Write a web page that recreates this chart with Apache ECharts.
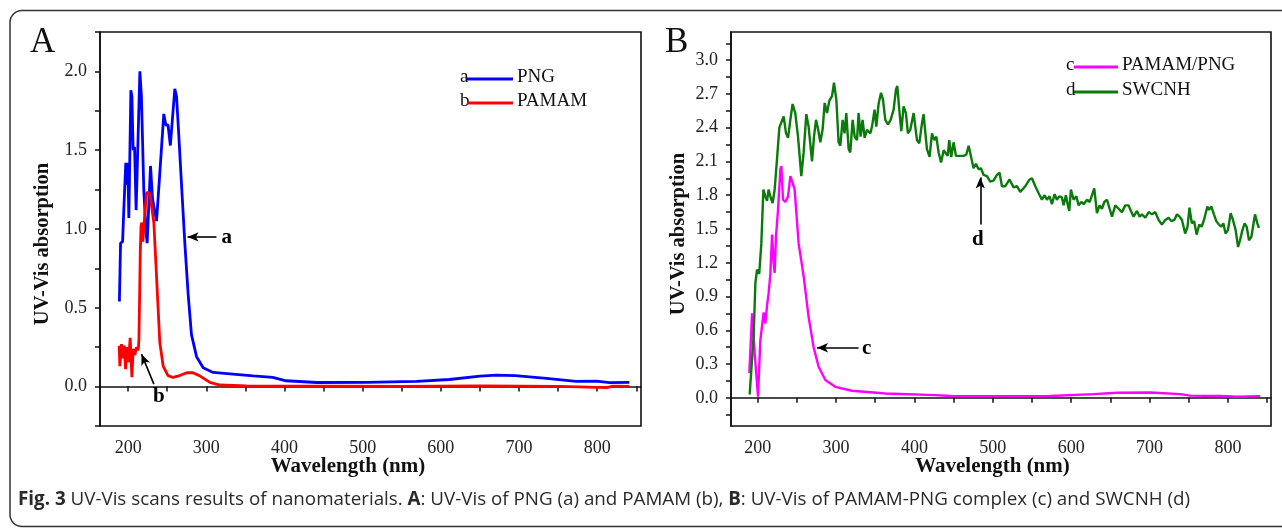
<!DOCTYPE html>
<html><head><meta charset="utf-8">
<script src="https://cdn.jsdelivr.net/npm/echarts@6/dist/echarts.min.js"></script>
<style>html,body{margin:0;padding:0;background:#fff}#c{width:1282px;height:528px}</style>
</head><body><div id="c"></div>
<script>
// ---------- DATA (wavelength nm, absorbance) ----------
const pngData = [[188.8,0.54],[190.3,0.91],[192.9,0.92],[194.5,1.13],[197,1.42],[198.2,1.28],[199.5,1.42],[200.9,1.07],[203.5,1.88],[204.8,1.84],[206.4,1.50],[208.2,1.52],[210.2,1.12],[215,2.00],[217,1.84],[220,1.25],[222.6,1.00],[224.3,0.91],[228.6,1.40],[231.2,1.19],[236.3,1.05],[238,1.17],[245.6,1.73],[248.2,1.66],[251,1.66],[254,1.53],[259.7,1.89],[261.9,1.84],[264.5,1.62],[268.3,1.28],[272.5,0.91],[276.7,0.59],[281,0.33],[287.5,0.19],[296,0.12],[308.7,0.09],[334,0.079],[360,0.068],[385,0.058],[402,0.037],[441,0.026],[505,0.027],[569,0.033],[611,0.045],[650,0.066],[671,0.073],[695,0.07],[735,0.052],[773,0.033],[799,0.035],[816,0.025],[841,0.027]];
const pamamData = [[188.5,0.26],[189.4,0.13],[191.5,0.27],[192.8,0.18],[195,0.26],[196.7,0.11],[198.8,0.25],[200.5,0.155],[202.6,0.31],[204.8,0.06],[206.5,0.24],[208.6,0.20],[210.7,0.25],[212.9,0.23],[213.8,0.30],[214.6,0.55],[215.5,0.85],[216.5,1.02],[217.5,1.04],[218.8,0.92],[220.2,1.02],[223.5,1.23],[226.9,1.23],[228.5,1.20],[232.9,1.04],[236.3,0.70],[240.5,0.28],[244.8,0.13],[251,0.07],[257.4,0.058],[266,0.07],[275,0.088],[283,0.088],[291.7,0.068],[304.5,0.027],[317.3,0.01],[351,0.004],[450,0.003],[550,0.002],[650,0.004],[750,0.002],[812,-0.006],[820,0.003],[841,0.002]];
const pamamPngData = [[189.4,0.22],[192.9,0.75],[196.2,0.40],[200.5,0.01],[203.4,0.51],[207.7,0.76],[209.8,0.66],[212,0.82],[214,0.93],[216.2,1.10],[218.4,1.45],[220.4,1.20],[221.7,1.11],[223.4,1.43],[226,1.67],[229,2.03],[230.2,2.06],[232.4,1.76],[235.3,1.74],[238.8,1.79],[241.7,1.97],[244.6,1.91],[247.2,1.85],[252.3,1.37],[258.7,1.08],[265,0.72],[271.4,0.45],[277.8,0.276],[286.4,0.158],[299.1,0.098],[320.4,0.063],[362.9,0.039],[426.7,0.024],[446,0.017],[500,0.015],[573,0.016],[628.6,0.033],[658.4,0.045],[700.9,0.048],[739,0.033],[752,0.02],[790,0.016],[811.5,0.01],[841.2,0.015]];
const swcnhData = [[189.8,0.03],[194.9,0.55],[197.1,1.02],[199.2,1.14],[202,1.10],[204.7,1.37],[207.3,1.85],[209.8,1.79],[212,1.75],[214,1.85],[216.6,1.78],[219.1,1.73],[221.7,1.85],[224.7,2.12],[227.7,2.40],[229.6,2.39],[233.2,2.50],[236.2,2.35],[238.8,2.31],[241.7,2.47],[244.6,2.61],[248,2.53],[251.5,2.32],[253.2,2.18],[255.7,1.97],[258.7,2.18],[262.1,2.52],[265,2.41],[269.4,2.10],[271.9,2.32],[274.5,2.47],[277,2.39],[280,2.27],[283,2.39],[285.5,2.62],[288.5,2.53],[291.5,2.64],[294.9,2.68],[297.4,2.80],[300.4,2.65],[303.3,2.27],[305.5,2.24],[308.4,2.47],[310.9,2.35],[313.1,2.53],[316.1,2.21],[318.2,2.18],[321.2,2.47],[323.8,2.32],[326.8,2.29],[328.8,2.53],[331.4,2.32],[333.9,2.47],[336.5,2.31],[339.5,2.38],[343.8,2.35],[345.9,2.41],[349.2,2.56],[351.4,2.41],[354.3,2.61],[357.4,2.71],[359.9,2.65],[362.9,2.47],[366.3,2.43],[369.7,2.47],[373.5,2.56],[376.5,2.74],[378.2,2.77],[380.7,2.56],[383.3,2.37],[386.2,2.59],[389.2,2.53],[391.7,2.35],[394.7,2.38],[399,2.53],[403.3,2.29],[406.2,2.26],[409.7,2.44],[411.7,2.52],[416,2.21],[419.4,2.14],[422.4,2.35],[425.4,2.29],[428,2.32],[430.9,2.18],[434,2.09],[437.4,2.20],[439.5,2.21],[442.5,2.15],[444.5,2.29],[447,2.14],[450,2.27],[453,2.15],[455.5,2.16],[458.5,2.15],[462.8,2.15],[466.2,2.16],[469.2,2.24],[472,2.15],[475.5,2.04],[478.5,2.08],[481.9,2.03],[484.9,2.04],[488.3,1.98],[492.6,1.97],[496.8,1.92],[501,1.93],[505.3,1.98],[508.7,2.0],[511.7,1.88],[516,1.88],[521.4,1.94],[526.5,1.87],[530.8,1.88],[535.1,1.83],[541.5,1.88],[547,1.94],[550,1.95],[554.3,1.88],[558.4,1.82],[562.7,1.76],[566.2,1.80],[569.1,1.76],[572.5,1.79],[575.5,1.72],[578.9,1.81],[581.8,1.76],[584.8,1.79],[588.2,1.78],[590.4,1.71],[593.3,1.80],[595.5,1.72],[597.6,1.66],[599.7,1.85],[603.2,1.76],[606.6,1.79],[609.6,1.71],[613,1.74],[616,1.72],[620.3,1.76],[623.7,1.74],[629.5,1.86],[632.9,1.64],[636.3,1.71],[639.3,1.68],[642.3,1.74],[645.7,1.76],[649.1,1.68],[652.1,1.61],[656.3,1.71],[660.6,1.68],[664.8,1.65],[669.1,1.71],[673.3,1.71],[676.3,1.66],[679.7,1.61],[684,1.66],[687.4,1.61],[690.4,1.63],[694.6,1.60],[698.9,1.65],[703.1,1.63],[707.4,1.65],[711.6,1.58],[715.8,1.54],[720.1,1.58],[724.4,1.60],[727.8,1.57],[731.6,1.58],[735,1.63],[738.4,1.61],[741.4,1.58],[745.5,1.46],[748.5,1.52],[751,1.69],[754,1.55],[756.9,1.57],[760.1,1.45],[763.5,1.54],[766.5,1.52],[769.5,1.58],[773.8,1.70],[775.9,1.67],[778.8,1.70],[782.2,1.63],[785.2,1.57],[788.6,1.54],[791.6,1.52],[794.1,1.55],[797.1,1.46],[800.1,1.49],[803.5,1.64],[806.5,1.58],[809.9,1.49],[813,1.34],[815.5,1.40],[818.5,1.49],[821.4,1.55],[824,1.52],[826.9,1.40],[830,1.43],[832.5,1.54],[834.6,1.63],[837.6,1.55],[839.6,1.51]];

// tick labels
const xLabelsNm = [200,300,400,500,600,700,800];
const xTicksNm = [200,250,300,350,400,450,500,550,600,650,700,750,800,850];
const yLabelsA = [0,0.5,1.0,1.5,2.0];
const yTicksA = [-0.25,0,0.25,0.5,0.75,1.0,1.25,1.5,1.75,2.0,2.25];
const yLabelsB = [0,0.3,0.6,0.9,1.2,1.5,1.8,2.1,2.4,2.7,3.0];
const yTicksB = [-0.15,0,0.15,0.3,0.45,0.6,0.75,0.9,1.05,1.2,1.35,1.5,1.65,1.8,1.95,2.1,2.25,2.4,2.55,2.7,2.85,3.0,3.15];

const seriesNames = ['PNG','PAMAM','PAMAM/PNG','SWCNH'];
const legendLetters = ['a','b','c','d'];
const colors = ['#0000ff','#ff0000','#ff00ff','#0a7a0a'];

// ---------- OPTION ----------
const SERIF = 'Liberation Serif';
function xAxis(gi, min, max){
  return {type:'value', gridIndex:gi, min:min, max:max,
    axisLine:{show:true, lineStyle:{color:'#111', width:1.6}},
    axisTick:{show:true, inside:false, length:5, customValues:xTicksNm, lineStyle:{color:'#111', width:1.5}},
    axisLabel:{customValues:xLabelsNm, fontFamily:SERIF, fontSize:18, color:'#222', margin:13},
    splitLine:{show:false}};
}
function yAxis(gi, min, max, labels, ticks){
  return {type:'value', gridIndex:gi, min:min, max:max,
    axisLine:{show:true, lineStyle:{color:'#111', width:1.6}},
    axisTick:{show:true, inside:false, length:5, customValues:ticks, lineStyle:{color:'#111', width:1.5}},
    axisLabel:{customValues:labels, fontFamily:SERIF, fontSize:18, color:'#222', margin:13,
      formatter:v=>Number(v).toFixed(1)},
    splitLine:{show:false}};
}
function arrow(from, to){
  return [{coord:from},{coord:to}];
}
function letter(txt, at){
  return {coord:at, symbol:'circle', symbolSize:0, itemStyle:{color:'rgba(0,0,0,0)'},
    label:{show:true, position:'inside', formatter:txt, fontFamily:SERIF, fontWeight:'bold', fontSize:21, color:'#000'}};
}
const markLineBase = {silent:true, animation:false, symbol:['none','arrow'], symbolSize:[7,11],
  lineStyle:{color:'#000', width:1.6, type:'solid'}, label:{show:false}};

const option = {
  animation:false,
  backgroundColor:'#fff',
  grid:[
    {left:100, top:32, width:541, height:394, show:true, borderColor:'#111', borderWidth:1.6, backgroundColor:'transparent'},
    {left:731, top:32, width:540, height:394, show:true, borderColor:'#111', borderWidth:1.6, backgroundColor:'transparent'}
  ],
  xAxis:[xAxis(0,164,856), xAxis(1,166,855)],
  yAxis:[yAxis(0,-0.25,2.25,yLabelsA,yTicksA), yAxis(1,-0.25,3.25,yLabelsB,yTicksB)],
  series:[
    {name:seriesNames[0], type:'line', xAxisIndex:0, yAxisIndex:0, data:pngData, showSymbol:false,
      lineStyle:{color:colors[0], width:2.8}, itemStyle:{color:colors[0]},
      markLine:Object.assign({}, markLineBase, {data:[arrow([313,0.95],[276,0.95])]}),
      markPoint:{silent:true, data:[letter('a',[326,0.945])]}},
    {name:seriesNames[1], type:'line', xAxisIndex:0, yAxisIndex:0, data:pamamData, showSymbol:false,
      lineStyle:{color:colors[1], width:2.8}, itemStyle:{color:colors[1]},
      markLine:Object.assign({}, markLineBase, {data:[arrow([232.9,0.016],[217.1,0.206])]}),
      markPoint:{silent:true, data:[letter('b',[239.3,-0.062])]}},
    {name:seriesNames[2], type:'line', xAxisIndex:1, yAxisIndex:1, data:pamamPngData, showSymbol:false,
      lineStyle:{color:colors[2], width:2.4}, itemStyle:{color:colors[2]},
      markLine:Object.assign({}, markLineBase, {data:[arrow([328.8,0.445],[275.8,0.445])]}),
      markPoint:{silent:true, data:[letter('c',[339,0.44])]}},
    {name:seriesNames[3], type:'line', xAxisIndex:1, yAxisIndex:1, data:swcnhData, showSymbol:false,
      lineStyle:{color:colors[3], width:2.4}, itemStyle:{color:colors[3]},
      markLine:Object.assign({}, markLineBase, {data:[arrow([484.1,1.539],[484.1,1.957])]}),
      markPoint:{silent:true, data:[letter('d',[481,1.41])]}}
  ],
  graphic:[]
};

// legends (letter, line, name)
const legendPos = [
  {lx:460, x1:467, x2:513, tx:517, y:79},
  {lx:460, x1:467, x2:513, tx:517, y:103},
  {lx:1066, x1:1074, x2:1118, tx:1122, y:67},
  {lx:1066, x1:1074, x2:1118, tx:1122, y:92}
];
legendPos.forEach((p,i)=>{
  option.graphic.push({type:'text', left:p.lx, top:p.y-11, style:{text:legendLetters[i], font:'19px "Liberation Serif"', fill:'#111'}});
  option.graphic.push({type:'line', shape:{x1:p.x1, y1:p.y, x2:p.x2, y2:p.y}, style:{stroke:colors[i], lineWidth:3}});
  option.graphic.push({type:'text', left:p.tx, top:p.y-11, style:{text:seriesNames[i], font:'19px "Liberation Serif"', fill:'#111'}});
});
// frame
option.graphic.push({type:'rect', shape:{x:10, y:10.5, width:1300, height:516, r:12}, style:{fill:'none', stroke:'#333', lineWidth:1.5}, z:-1});
// panel letters
option.graphic.push({type:'text', left:30, top:25, style:{text:'A', font:'35px "Liberation Serif"', fill:'#111'}});
option.graphic.push({type:'text', left:665, top:25, style:{text:'B', font:'35px "Liberation Serif"', fill:'#111'}});
// axis titles
['A','B'].forEach((k,i)=>{
  const cx = i===0 ? 348 : 992.5;
  option.graphic.push({type:'text', x:cx, y:467, style:{text:'Wavelength (nm)', font:'bold 21px "Liberation Serif"', fill:'#111', textAlign:'center', textVerticalAlign:'middle'}});
  const yc = i===0 ? 244 : 234;
  const xc = i===0 ? 43 : 679;
  option.graphic.push({type:'text', x:xc, y:yc, rotation:Math.PI/2, style:{text:'UV-Vis absorption', font:'bold 20.5px "Liberation Serif"', fill:'#111', textAlign:'center', textVerticalAlign:'middle'}});
});
// caption
option.graphic.push({type:'text', left:18, top:490, style:{
  text:'{b|Fig. 3} UV-Vis scans results of nanomaterials. {b|A}: UV-Vis of PNG (a) and PAMAM (b), {b|B}: UV-Vis of PAMAM-PNG complex (c) and SWCNH (d)',
  font:'18.8px "Open Sans"', fill:'#2a2a2a',
  rich:{b:{fontFamily:'Open Sans', fontWeight:'bold', fontSize:18.8, fill:'#2a2a2a'}}
}});

const chart = echarts.init(document.getElementById('c'), null, {renderer:'canvas'});
chart.setOption(option);
</script>
</body></html>
